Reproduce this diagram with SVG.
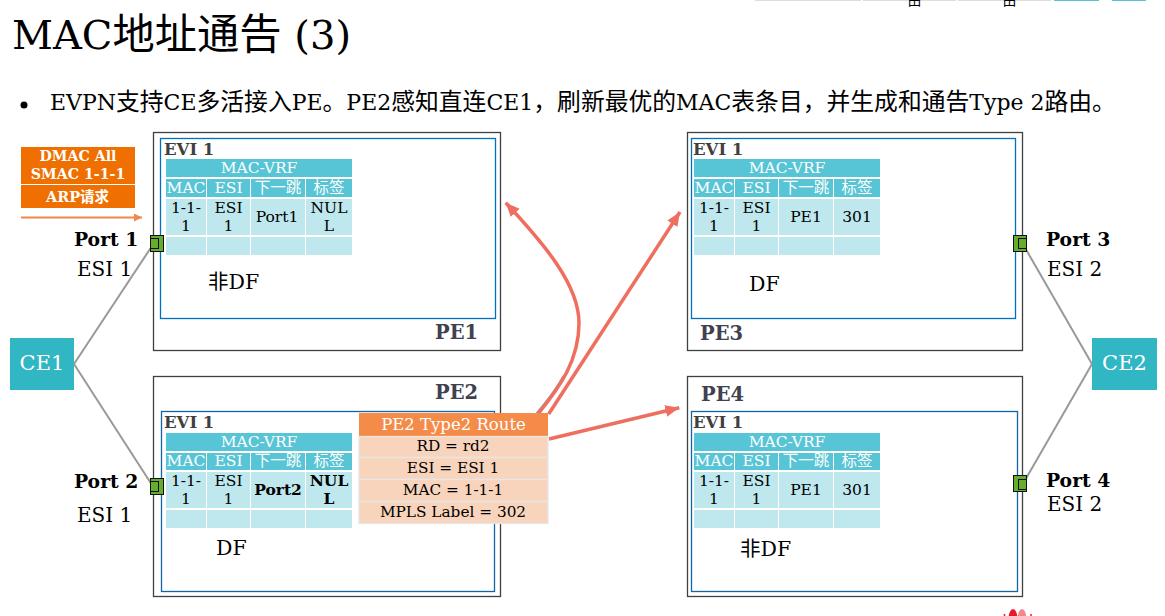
<svg xmlns="http://www.w3.org/2000/svg" xmlns:xlink="http://www.w3.org/1999/xlink" width="1165" height="616" viewBox="0 0 1165 616">
<style>
text{font-family:"DejaVu Serif","Noto Sans CJK SC",serif;fill:#000}
.outer{fill:#fff;stroke:#404040;stroke-width:1.3}
.inner{fill:#fff;stroke:#0070C0;stroke-width:1.3}
.innerb{fill:#fff;stroke:#1066A8;stroke-width:1.3}
.hd{fill:#57C5D5}
.cell{fill:#BEE8EE}
.th{fill:#fff;font-size:15.500px;text-anchor:middle}
.td{font-size:15.500px;text-anchor:middle}
.tdb{font-size:15.500px;text-anchor:middle;font-weight:bold}
.evi{font-size:16.500px;font-weight:bold;fill:#404040}
.pe{font-size:19.500px;font-weight:bold;fill:#404050}
.lab{font-size:20px}
.labb{font-size:18.800px;font-weight:bold}
.df{font-size:20.500px}
.ce{fill:#31B6C4}
.cet{fill:#fff;font-size:21px;text-anchor:middle}
.port{fill:#66AC2E;stroke:#111;stroke-width:1}
.link{fill:none;stroke:#999;stroke-width:2}
.red{fill:none;stroke:#EE6F60;stroke-width:3.500;marker-end:url(#ra)}
.rt{font-size:15.300px;text-anchor:middle}
.rc{fill:#F8D4BC;stroke:#E6E6E6;stroke-width:1.300}
.c1{font-size:42.300px}
.c2{font-size:23.800px}
</style>
<defs>
<marker id="ra" markerUnits="userSpaceOnUse" markerWidth="16" markerHeight="14" refX="14" refY="6" orient="auto"><path d="M0,0L14,6L0,12z" fill="#EE6F60"/></marker>
<marker id="oa" markerUnits="userSpaceOnUse" markerWidth="10" markerHeight="10" refX="8" refY="4" orient="auto"><path d="M0,0L8,4L0,8z" fill="#F0884A"/></marker>
<g id="tb">
<rect class="hd" x="0" y="0" width="186" height="18"/>
<rect class="hd" x="0" y="20" width="40" height="18"/><rect class="hd" x="41" y="20" width="43" height="18"/><rect class="hd" x="85" y="20" width="54" height="18"/><rect class="hd" x="140" y="20" width="46" height="18"/>
<rect class="cell" x="0" y="40" width="40" height="36"/><rect class="cell" x="41" y="40" width="43" height="36"/><rect class="cell" x="85" y="40" width="54" height="36"/><rect class="cell" x="140" y="40" width="46" height="36"/>
<rect class="cell" x="0" y="78" width="40" height="18"/><rect class="cell" x="41" y="78" width="43" height="18"/><rect class="cell" x="85" y="78" width="54" height="18"/><rect class="cell" x="140" y="78" width="46" height="18"/>
<text class="th" x="93" y="14">MAC-VRF</text>
<text class="th" x="20" y="34">MAC</text><text class="th" x="62.500" y="34">ESI</text><text class="th" x="112" y="34">下一跳</text><text class="th" x="163" y="34">标签</text>
<text class="td" x="20" y="54">1-1-</text><text class="td" x="20" y="72">1</text><text class="td" x="62.500" y="54">ESI</text><text class="td" x="62.500" y="72">1</text>
</g>
<g id="tb2">
<rect class="hd" x="0" y="0" width="186" height="18"/>
<rect class="hd" x="0" y="20" width="40" height="17"/><rect class="hd" x="41" y="20" width="43" height="17"/><rect class="hd" x="85" y="20" width="54" height="17"/><rect class="hd" x="140" y="20" width="46" height="17"/>
<rect class="cell" x="0" y="39" width="40" height="36"/><rect class="cell" x="41" y="39" width="43" height="36"/><rect class="cell" x="85" y="39" width="54" height="36"/><rect class="cell" x="140" y="39" width="46" height="36"/>
<rect class="cell" x="0" y="77" width="40" height="18"/><rect class="cell" x="41" y="77" width="43" height="18"/><rect class="cell" x="85" y="77" width="54" height="18"/><rect class="cell" x="140" y="77" width="46" height="18"/>
<text class="th" x="93" y="14">MAC-VRF</text>
<text class="th" x="20" y="33">MAC</text><text class="th" x="62.500" y="33">ESI</text><text class="th" x="112" y="33">下一跳</text><text class="th" x="163" y="33">标签</text>
<text class="td" x="20" y="53">1-1-</text><text class="td" x="20" y="71">1</text><text class="td" x="62.500" y="53">ESI</text><text class="td" x="62.500" y="71">1</text>
</g>
</defs>
<g id="top-fragments">
<rect x="755" y="0" width="106" height="1" fill="#ddd"/><rect x="863" y="0" width="93" height="1" fill="#ddd"/><rect x="958" y="0" width="93" height="1" fill="#ddd"/><rect x="1054" y="0" width="45" height="1" fill="#57C5D5"/><rect x="1112" y="0" width="34" height="1" fill="#57C5D5"/>
<text x="907.500" y="5" style="font-size:14px;font-family:'Noto Sans CJK SC',sans-serif">由</text><text x="1002.500" y="5" style="font-size:14px;font-family:'Noto Sans CJK SC',sans-serif">由</text>
</g>
<text id="title" x="12" y="49" style="font-size:40px">MAC<tspan class="c1">地址通告</tspan> (3)</text>
<circle cx="24" cy="105" r="3.500" fill="#000"/>
<text id="bullet" x="50" y="109.500" style="font-size:22px">EVPN<tspan class="c2">支持</tspan>CE<tspan class="c2">多活接入</tspan>PE<tspan class="c2">。</tspan>PE2<tspan class="c2">感知直连</tspan>CE1<tspan class="c2">，刷新最优的</tspan>MAC<tspan class="c2">表条目，并生成和通告</tspan>Type 2<tspan class="c2">路由。</tspan></text>

<g id="connectors">
<path class="link" d="M74,364L152,246"/><path class="link" d="M74,364L152,485"/>
<path class="link" d="M1092,364L1024,246"/><path class="link" d="M1092,364L1024,482"/>
</g>

<g id="arp">
<rect x="21" y="147" width="114" height="37" fill="#EF6F00"/><rect x="21" y="185" width="114" height="23" fill="#EF6F00"/>
<text x="78" y="161" style="font-size:14.200px;font-weight:bold;fill:#fff;text-anchor:middle">DMAC All</text>
<text x="78" y="179" style="font-size:14.200px;font-weight:bold;fill:#fff;text-anchor:middle">SMAC 1-1-1</text>
<text x="77.500" y="202" style="font-size:14.500px;font-weight:bold;fill:#fff;text-anchor:middle">ARP请求</text>
<path d="M21,217.500H142" fill="none" stroke="#F0884A" stroke-width="2" marker-end="url(#oa)"/>
</g>

<g id="PE1">
<rect class="outer" x="153.500" y="132.500" width="347" height="218"/>
<rect class="inner" x="160.500" y="138.500" width="335" height="180"/>
<text class="evi" x="164" y="155">EVI 1</text>
<use xlink:href="#tb" href="#tb" x="166" y="159"/>
<text class="td" x="277" y="222">Port1</text><text class="td" x="329" y="213">NUL</text><text class="td" x="329" y="231">L</text>
<text class="df" x="208" y="289">非DF</text>
<text class="pe" x="435" y="339">PE1</text>
</g>
<g id="PE2">
<rect class="outer" x="153.500" y="376.500" width="347" height="220"/>
<rect class="innerb" x="161.500" y="411.500" width="333" height="180"/>
<text class="evi" x="164" y="428">EVI 1</text>
<use xlink:href="#tb2" href="#tb2" x="166" y="433"/>
<text class="tdb" x="278" y="495">Port2</text><text class="tdb" x="329" y="486">NUL</text><text class="tdb" x="329" y="504">L</text>
<text class="df" x="216" y="555">DF</text>
<text class="pe" x="435" y="399">PE2</text>
</g>
<g id="PE3">
<rect class="outer" x="687.500" y="132.500" width="335" height="218"/>
<rect class="inner" x="691.500" y="138.500" width="324" height="180"/>
<text class="evi" x="693" y="155">EVI 1</text>
<use xlink:href="#tb" href="#tb" x="694" y="159"/>
<text class="td" x="806" y="222">PE1</text><text class="td" x="857" y="222">301</text>
<text class="df" x="749" y="291">DF</text>
<text class="pe" x="700" y="340">PE3</text>
</g>
<g id="PE4">
<rect class="outer" x="687.500" y="376.500" width="335" height="220"/>
<rect class="innerb" x="691.500" y="411.500" width="326" height="180"/>
<text class="evi" x="693" y="428">EVI 1</text>
<use xlink:href="#tb2" href="#tb2" x="694" y="433"/>
<text class="td" x="806" y="495">PE1</text><text class="td" x="857" y="495">301</text>
<text class="df" x="740" y="556">非DF</text>
<text class="pe" x="701" y="401">PE4</text>
</g>

<g id="ports">
<g id="port1"><rect class="port" x="150.500" y="235.500" width="13" height="16"/><rect class="port" x="150.500" y="238.500" width="8" height="10"/></g>
<g id="port2"><rect class="port" x="150.500" y="478.500" width="13" height="16"/><rect class="port" x="150.500" y="481.500" width="8" height="10"/></g>
<g id="port3"><rect class="port" x="1013.500" y="235.500" width="13" height="16"/><rect class="port" x="1018.500" y="238.500" width="8" height="10"/></g>
<g id="port4"><rect class="port" x="1013.500" y="475.500" width="13" height="16"/><rect class="port" x="1018.500" y="479.500" width="8" height="10"/></g>
</g>

<g id="labels">
<text class="labb" x="74" y="246">Port 1</text><text class="lab" x="77" y="276">ESI 1</text>
<text class="labb" x="74" y="488">Port 2</text><text class="lab" x="77" y="522">ESI 1</text>
<text class="labb" x="1046" y="246">Port 3</text><text class="lab" x="1047" y="276">ESI 2</text>
<text class="labb" x="1046" y="487">Port 4</text><text class="lab" x="1047" y="511">ESI 2</text>
</g>

<g id="CE1"><rect class="ce" x="10" y="338" width="64" height="52"/><text class="cet" x="42" y="370">CE1</text></g>
<g id="CE2"><rect class="ce" x="1092" y="338" width="65" height="52"/><text class="cet" x="1124.500" y="370">CE2</text></g>

<g id="red-arrows">
<path class="link" d="M536.500,413C549,398 557,388 563,376" style="stroke-width:1.500"/>
<path class="red" d="M538,414C560,387 579,360 579,323C579,285 545,245 505.700,202.700"/>
<path class="red" d="M548.700,414L680,212"/>
<path class="red" d="M549,439L679.300,407.700"/>
</g>

<g id="route">
<rect x="359" y="413" width="189" height="23" fill="#F58B48"/>
<rect class="rc" x="359" y="436.500" width="189" height="21"/><rect class="rc" x="359" y="457.500" width="189" height="22"/><rect class="rc" x="359" y="479.500" width="189" height="22"/><rect class="rc" x="359" y="501.500" width="189" height="22"/>
<text class="rt" x="453.500" y="430" style="font-size:16.500px;fill:#fff">PE2 Type2 Route</text>
<text class="rt" x="453" y="451">RD = rd2</text><text class="rt" x="453" y="473">ESI = ESI 1</text><text class="rt" x="453" y="495">MAC = 1-1-1</text><text class="rt" x="453" y="517">MPLS Label = 302</text>
</g>

<g id="logo" fill="#E8192C">
<ellipse cx="1013" cy="619" rx="4.500" ry="10"/><ellipse cx="1022" cy="619" rx="4.500" ry="10" fill="#F08A8A"/><circle cx="1004.500" cy="615" r="1"/><circle cx="1031" cy="615" r="1"/>
</g>
</svg>
